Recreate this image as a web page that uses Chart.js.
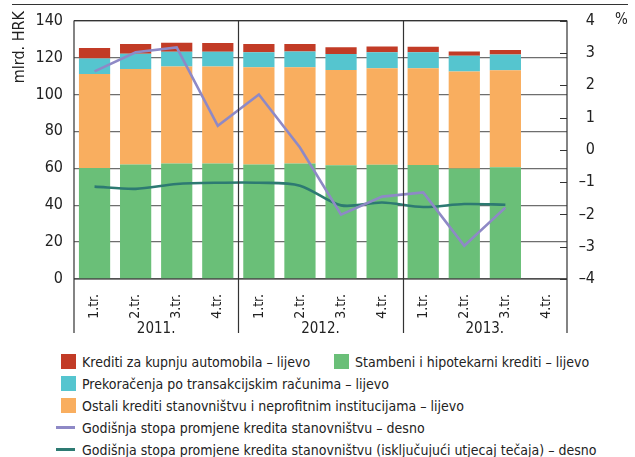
<!DOCTYPE html>
<html>
<head>
<meta charset="utf-8">
<script src="https://cdn.jsdelivr.net/npm/chart.js@4.4.1/dist/chart.umd.min.js"></script>
<style>
  body { margin: 0; background: #fff; font-family: "DejaVu Sans Condensed", "Liberation Sans", sans-serif; color: #222; }
  .wrap { position: relative; width: 635px; height: 457px; }
  canvas { position: absolute; left: 0; top: 0; }
  .legend { position: absolute; left: 61px; top: 351px; font-size: 14px; line-height: 22px; }
  .row { white-space: nowrap; height: 22px; }
  .item { display: inline-block; }
  .item.first { width: 273px; }
  .sq { display: inline-block; width: 15px; height: 15px; vertical-align: -2px; margin-right: 6px; }
  .ln { display: inline-block; width: 19px; height: 3px; vertical-align: 4px; margin-left: -5px; margin-right: 7px; }
</style>
</head>
<body>
<div class="wrap">
  <canvas class="main-canvas" width="635" height="340"></canvas>
  <div class="legend" id="legend"></div>
</div>
<script>
const quarters = ["1.tr.", "2.tr.", "3.tr.", "4.tr.", "1.tr.", "2.tr.", "3.tr.", "4.tr.", "1.tr.", "2.tr.", "3.tr.", "4.tr."];
const years = ["2011.", "2012.", "2013."];

// mlrd. HRK, lijevo
const housing = [60.1, 62.1, 62.6, 62.6, 62.1, 62.6, 61.6, 61.9, 61.8, 59.9, 60.5, null];
const other = [51.0, 51.7, 52.5, 52.5, 52.6, 52.1, 51.7, 52.3, 52.4, 52.5, 52.6, null];
const overdrafts = [8.4, 8.3, 8.0, 8.0, 8.2, 8.6, 8.6, 8.6, 8.6, 8.6, 8.6, null];
const carLoans = [5.6, 5.2, 4.9, 4.7, 4.4, 4.0, 3.6, 3.2, 3.0, 2.3, 2.4, null];

// %, desno
const growth = [2.43, 3.02, 3.17, 0.74, 1.71, 0.07, -2.01, -1.45, -1.32, -2.97, -1.79, null];
const growthExFx = [-1.14, -1.21, -1.06, -1.02, -1.02, -1.11, -1.72, -1.63, -1.77, -1.68, -1.70, null];

const leftTicks = [0, 20, 40, 60, 80, 100, 120, 140];
const rightTicks = [-4, -3, -2, -1, 0, 1, 2, 3, 4];

const FONT = "'DejaVu Sans Condensed', 'Liberation Sans', sans-serif";
const INK = "#222";

const colors = {
  car: "#c23b26",
  housing: "#6abf78",
  overdraft: "#55c5cf",
  other: "#f9ae5f",
  growth: "#8e89c6",
  growthExFx: "#2d7a72",
};

const legendItems = [
  [{ type: "sq", color: colors.car, text: "Krediti za kupnju automobila – lijevo" },
   { type: "sq", color: colors.housing, text: "Stambeni i hipotekarni krediti – lijevo" }],
  [{ type: "sq", color: colors.overdraft, text: "Prekoračenja po transakcijskim računima – lijevo" }],
  [{ type: "sq", color: colors.other, text: "Ostali krediti stanovništvu i neprofitnim institucijama – lijevo" }],
  [{ type: "ln", color: colors.growth, text: "Godišnja stopa promjene kredita stanovništvu – desno" }],
  [{ type: "ln", color: colors.growthExFx, text: "Godišnja stopa promjene kredita stanovništvu (isključujući utjecaj tečaja) – desno" }],
];

const legend = document.getElementById("legend");
legendItems.forEach(row => {
  const r = document.createElement("div");
  r.className = "row";
  row.forEach((it, i) => {
    const s = document.createElement("span");
    s.className = row.length > 1 && i === 0 ? "item first" : "item";
    s.innerHTML = `<span class="${it.type}" style="background:${it.color}"></span>${it.text}`;
    r.appendChild(s);
  });
  legend.appendChild(r);
});

// frame, year separators, year labels, unit labels, right inner ticks
const decorations = {
  id: "decorations",
  afterDraw(chart) {
    const { ctx, chartArea: a, scales } = chart;
    const x = scales.x;
    const bottom = 333;
    ctx.save();
    ctx.strokeStyle = "#333";
    ctx.lineWidth = 1.2;
    ctx.beginPath();
    ctx.moveTo(12, 4.5); ctx.lineTo(628, 4.5);
    ctx.moveTo(a.left, a.top); ctx.lineTo(a.right, a.top);
    ctx.moveTo(a.left, a.bottom); ctx.lineTo(a.right, a.bottom);
    [a.left, a.right].forEach(px => { ctx.moveTo(px, a.top); ctx.lineTo(px, bottom); });
    [4, 8].forEach(i => {
      const px = Math.round((x.getPixelForValue(i - 1) + x.getPixelForValue(i)) / 2) + 0.5;
      ctx.moveTo(px, a.top); ctx.lineTo(px, bottom);
    });
    // inner ticks of the right axis
    const y1 = scales.y1;
    rightTicks.forEach(v => {
      const py = Math.round(y1.getPixelForValue(v)) + 0.5;
      ctx.moveTo(a.right - 7, py); ctx.lineTo(a.right, py);
    });
    ctx.stroke();

    ctx.fillStyle = INK;
    ctx.font = `15px ${FONT}`;
    ctx.textAlign = "center";
    ctx.textBaseline = "middle";
    years.forEach((yr, k) => {
      const cx = (x.getPixelForValue(k * 4) + x.getPixelForValue(k * 4 + 3)) / 2;
      ctx.fillText(yr, cx, 329);
    });
    ctx.textAlign = "left";
    ctx.fillText("%", 615, 20);

    ctx.font = `16px ${FONT}`;
    ctx.translate(20, 11);
    ctx.rotate(-Math.PI / 2);
    ctx.textAlign = "right";
    ctx.fillText("mlrd. HRK", 0, 0);
    ctx.restore();
  },
};

const ctx = document.querySelector(".main-canvas").getContext("2d");

new Chart(ctx, {
  type: "bar",
  data: {
    labels: quarters,
    datasets: [
      {
        type: "line",
        label: "Godišnja stopa promjene kredita stanovništvu – desno",
        data: growth,
        yAxisID: "y1",
        borderColor: colors.growth,
        borderWidth: 2.6,
        pointRadius: 0,
        tension: 0,
        order: 0,
      },
      {
        type: "line",
        label: "Godišnja stopa promjene kredita stanovništvu (isključujući utjecaj tečaja) – desno",
        data: growthExFx,
        yAxisID: "y1",
        borderColor: colors.growthExFx,
        borderWidth: 2.6,
        pointRadius: 0,
        tension: 0.3,
        order: 0,
      },
      { label: "Stambeni i hipotekarni krediti – lijevo", data: housing, backgroundColor: colors.housing, order: 1 },
      { label: "Ostali krediti stanovništvu i neprofitnim institucijama – lijevo", data: other, backgroundColor: colors.other, order: 1 },
      { label: "Prekoračenja po transakcijskim računima – lijevo", data: overdrafts, backgroundColor: colors.overdraft, order: 1 },
      { label: "Krediti za kupnju automobila – lijevo", data: carLoans, backgroundColor: colors.car, order: 1 },
    ],
  },
  options: {
    responsive: false,
    animation: false,
    events: [],
    datasets: {
      bar: { barPercentage: 0.76, categoryPercentage: 1, borderWidth: 0 },
    },
    layout: { padding: { top: 19, right: 40, bottom: 0, left: 0 } },
    plugins: {
      legend: { display: false },
      tooltip: { enabled: false },
    },
    scales: {
      x: {
        stacked: true,
        grid: { display: false },
        border: { display: false },
        ticks: {
          minRotation: 90,
          maxRotation: 90,
          padding: 7,
          color: INK,
          font: { family: FONT, size: 14 },
        },
        afterFit(scale) { scale.height = 61; },
      },
      y: {
        stacked: true,
        min: 0,
        max: 140,
        afterBuildTicks(scale) { scale.ticks = leftTicks.map(v => ({ value: v })); },
        grid: { color: "#6e6e6e", lineWidth: 1.2, drawTicks: false },
        border: { display: false },
        ticks: {
          padding: 11,
          color: INK,
          font: { family: FONT, size: 16 },
        },
        afterFit(scale) { scale.width = 74; },
      },
      y1: {
        position: "right",
        min: -4,
        max: 4,
        afterBuildTicks(scale) { scale.ticks = rightTicks.map(v => ({ value: v })); },
        grid: { display: false },
        border: { display: false },
        ticks: {
          padding: 11,
          crossAlign: "far",
          color: INK,
          font: { family: FONT, size: 16 },
          callback: v => String(v).replace("-", "–"),
        },
        afterFit(scale) { scale.width = 28; },
      },
    },
  },
  plugins: [decorations],
});
</script>
</body>
</html>
